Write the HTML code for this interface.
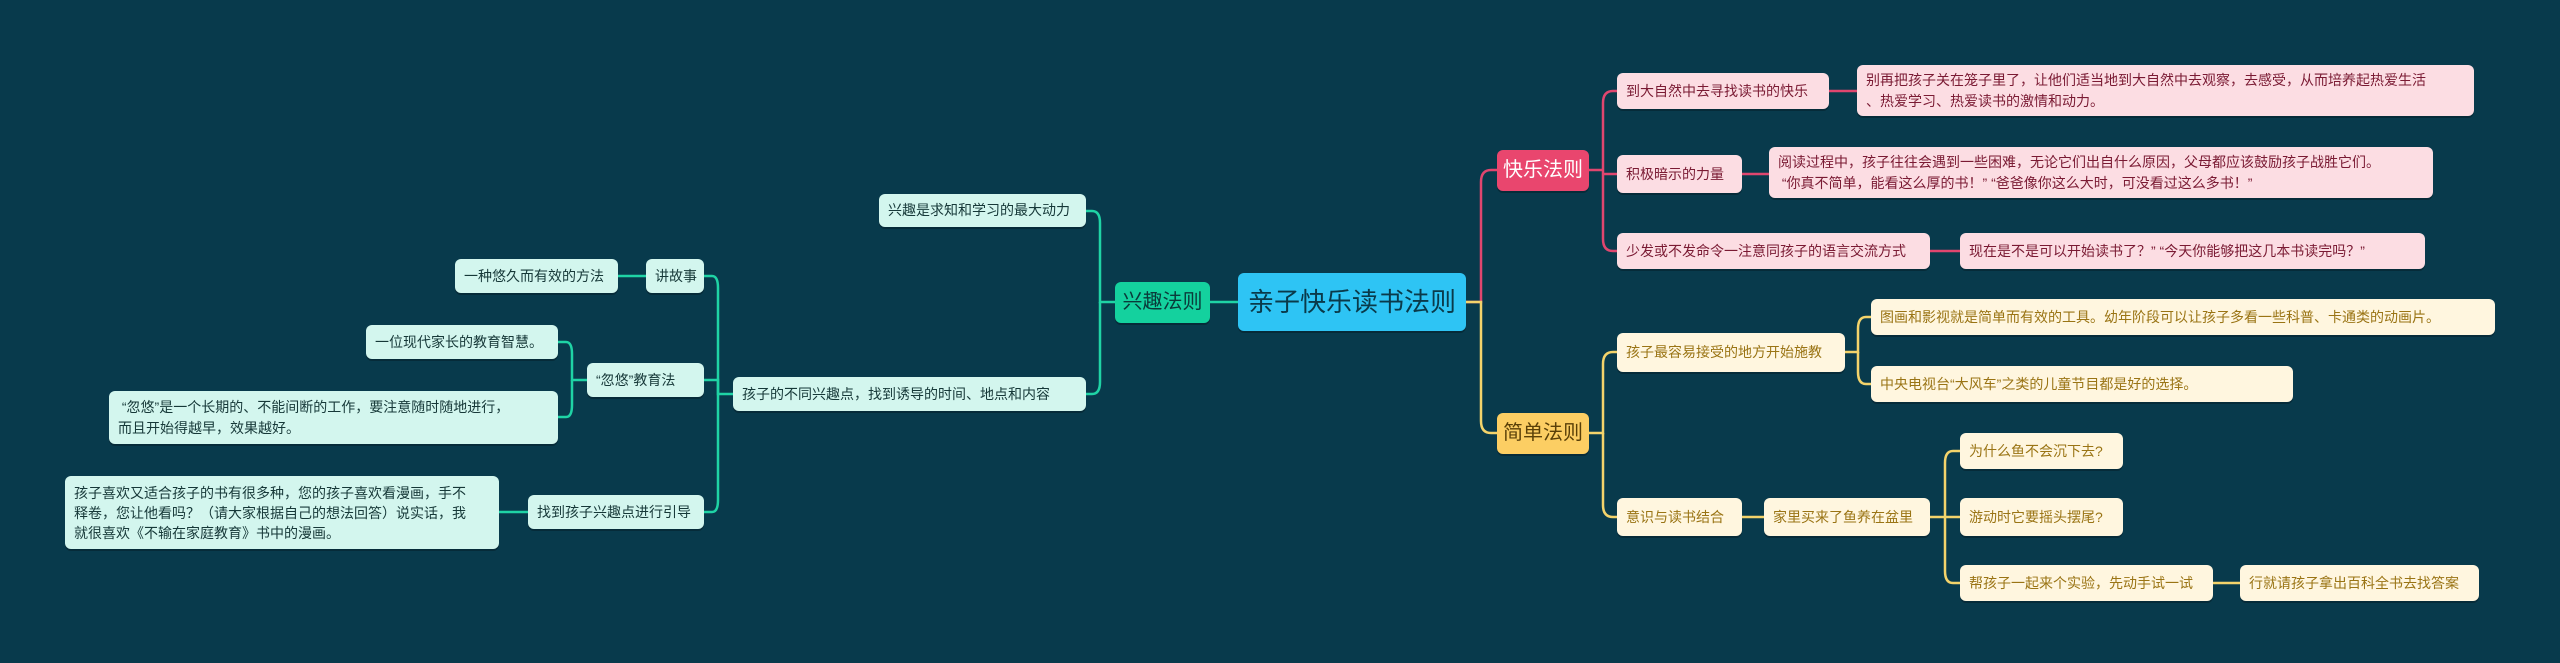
<!DOCTYPE html>
<html><head><meta charset="utf-8"><style>
body{margin:0;width:2560px;height:663px;background:#083a4c;position:relative;overflow:hidden;font-family:"Liberation Sans","Noto Sans CJK SC",sans-serif}
.n{position:absolute;box-sizing:border-box;border-radius:6px;display:flex;align-items:center;font-size:14px;line-height:21px;padding:0 9px;box-shadow:0 2px 0 rgba(0,0,0,.25);white-space:nowrap}
.p{background:#fcdde3;color:#7a1a33}
.y{background:#fff6df;color:#9a7414}
.t{background:#d3f6ee;color:#163838}
.m{justify-content:center;font-size:20px}
svg{position:absolute;left:0;top:0}
</style></head><body>
<svg width="2560" height="663" fill="none" stroke-width="2.5">
<g stroke="#e0466f">
<path d="M1466 302H1481V182Q1481 170 1491 170H1497"/>
<path d="M1589 170H1603"/>
<path d="M1603 174V103Q1603 91 1613 91H1617"/>
<path d="M1603 174H1617"/>
<path d="M1603 174V239Q1603 251 1613 251H1617"/>
<path d="M1829 91H1857M1742 174H1769M1930 251H1960"/>
</g>
<g stroke="#f3d36b">
<path d="M1466 302H1481V421Q1481 433 1491 433H1497"/>
<path d="M1589 433H1603V364Q1603 352 1613 352H1617"/>
<path d="M1603 433V505Q1603 517 1613 517H1617"/>
<path d="M1845 352H1858V329Q1858 317 1866 317H1871"/>
<path d="M1858 352V372Q1858 384 1866 384H1871"/>
<path d="M1742 517H1764M1930 517H1960M2213 583H2240"/>
<path d="M1945 517V463Q1945 451 1953 451H1960"/>
<path d="M1945 517V571Q1945 583 1953 583H1960"/>
</g>
<g stroke="#1fd3a5">
<path d="M1238 302H1210"/>
<path d="M1115 302H1100V223Q1100 211 1092 211H1086"/>
<path d="M1100 302V382Q1100 394 1092 394H1086"/>
<path d="M733 394H718V288Q718 276 712 276H704"/>
<path d="M718 394V380H704"/>
<path d="M718 394V500Q718 512 712 512H704"/>
<path d="M646 276H618M528 512H499"/>
<path d="M587 380H572V354Q572 342 566 342H558"/>
<path d="M572 380V405Q572 417 566 417H558"/>
</g>
</svg>
<div class="n m" style="left:1238px;top:273px;width:228px;height:58px;background:#2ec4f4;color:#0a3a4a;font-size:26px">亲子快乐读书法则</div>
<div class="n m" style="left:1497px;top:150px;width:92px;height:41px;background:#e9466e;color:#fff">快乐法则</div>
<div class="n m" style="left:1497px;top:413px;width:92px;height:41px;background:#fcce63;color:#5a4008">简单法则</div>
<div class="n m" style="left:1115px;top:282px;width:95px;height:41px;background:#14d19e;color:#0a3a3a">兴趣法则</div>

<div class="n p" style="left:1617px;top:73px;width:212px;height:36px">到大自然中去寻找读书的快乐</div>
<div class="n p" style="left:1857px;top:65px;width:617px;height:51px">别再把孩子关在笼子里了，让他们适当地到大自然中去观察，去感受，从而培养起热爱生活<br>、热爱学习、热爱读书的激情和动力。</div>
<div class="n p" style="left:1617px;top:155px;width:125px;height:38px">积极暗示的力量</div>
<div class="n p" style="left:1769px;top:147px;width:664px;height:51px">阅读过程中，孩子往往会遇到一些困难，无论它们出自什么原因，父母都应该鼓励孩子战胜它们。<br>&nbsp;“你真不简单，能看这么厚的书！” “爸爸像你这么大时，可没看过这么多书！”</div>
<div class="n p" style="left:1617px;top:233px;width:313px;height:36px">少发或不发命令一注意同孩子的语言交流方式</div>
<div class="n p" style="left:1960px;top:233px;width:465px;height:36px">现在是不是可以开始读书了？” “今天你能够把这几本书读完吗？”</div>

<div class="n y" style="left:1617px;top:333px;width:228px;height:39px">孩子最容易接受的地方开始施教</div>
<div class="n y" style="left:1871px;top:299px;width:624px;height:36px">图画和影视就是简单而有效的工具。幼年阶段可以让孩子多看一些科普、卡通类的动画片。</div>
<div class="n y" style="left:1871px;top:366px;width:422px;height:36px">中央电视台“大风车”之类的儿童节目都是好的选择。</div>
<div class="n y" style="left:1617px;top:498px;width:125px;height:38px">意识与读书结合</div>
<div class="n y" style="left:1764px;top:498px;width:166px;height:38px">家里买来了鱼养在盆里</div>
<div class="n y" style="left:1960px;top:433px;width:163px;height:36px">为什么鱼不会沉下去?</div>
<div class="n y" style="left:1960px;top:498px;width:163px;height:38px">游动时它要摇头摆尾?</div>
<div class="n y" style="left:1960px;top:565px;width:253px;height:36px">帮孩子一起来个实验，先动手试一试</div>
<div class="n y" style="left:2240px;top:565px;width:239px;height:36px">行就请孩子拿出百科全书去找答案</div>

<div class="n t" style="left:879px;top:194px;width:207px;height:33px">兴趣是求知和学习的最大动力</div>
<div class="n t" style="left:733px;top:377px;width:353px;height:34px">孩子的不同兴趣点，找到诱导的时间、地点和内容</div>
<div class="n t" style="left:646px;top:259px;width:58px;height:34px">讲故事</div>
<div class="n t" style="left:455px;top:259px;width:163px;height:34px">一种悠久而有效的方法</div>
<div class="n t" style="left:587px;top:363px;width:117px;height:34px">“忽悠”教育法</div>
<div class="n t" style="left:366px;top:325px;width:192px;height:34px">一位现代家长的教育智慧。</div>
<div class="n t" style="left:109px;top:391px;width:449px;height:53px">&nbsp;“忽悠”是一个长期的、不能间断的工作，要注意随时随地进行，<br>而且开始得越早，效果越好。</div>
<div class="n t" style="left:528px;top:495px;width:176px;height:34px">找到孩子兴趣点进行引导</div>
<div class="n t" style="left:65px;top:476px;width:434px;height:73px;line-height:20px">孩子喜欢又适合孩子的书有很多种，您的孩子喜欢看漫画，手不<br>释卷，您让他看吗？（请大家根据自己的想法回答）说实话，我<br>就很喜欢《不输在家庭教育》书中的漫画。</div>
</body></html>
